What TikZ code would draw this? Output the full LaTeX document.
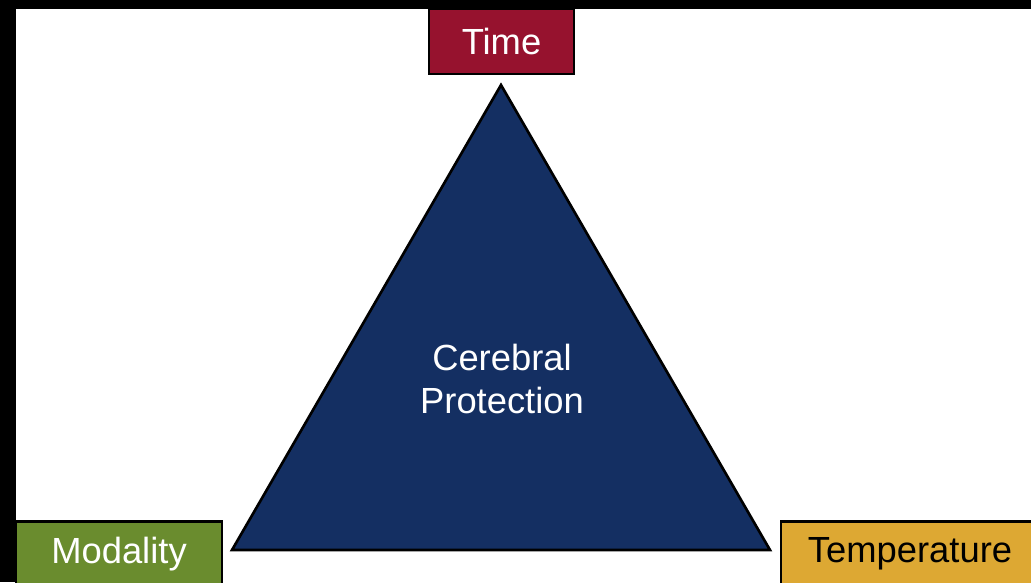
\documentclass[tikz,border=0pt]{standalone}
\usepackage{fontspec}
\setmainfont{Liberation Sans}
\definecolor{timered}{RGB}{150, 18, 46}
\definecolor{modgreen}{RGB}{106, 140, 46}
\definecolor{tempgold}{RGB}{221, 168, 51}
\definecolor{protblue}{RGB}{20, 47, 98}
\usepackage{tikz}
\usetikzlibrary{positioning, calc}

\begin{document}
\begin{tikzpicture}[x=0.02cm, y=-0.02cm,
    factor/.style={draw=black, line width=1.5pt, minimum height=1.3cm, inner sep=0pt,
      font=\fontsize{20.7}{25}\selectfont}]
  % Frame
  \useasboundingbox (0, 0) rectangle (1031, 582);
  \clip (0, 0) rectangle (1031, 582);
  \fill[black] (0, 0) rectangle (1031, 582);
  \fill[white] (16, 9) rectangle (1031, 582);

  % Triangle
  \coordinate (apex) at (501, 85);
  \coordinate (baseL) at (232, 550);
  \coordinate (baseR) at (770, 550);
  \filldraw[fill=protblue, draw=black, line width=1.5pt, line join=miter] (apex) -- (baseL) -- (baseR) -- cycle;
  \node[text=white, align=center, font=\fontsize{20.7}{25}\selectfont] (prot) at (502, 379) {Cerebral\\Protection};

  % Corner factors
  \node[factor, fill=timered, text=white, minimum width=2.9cm] (time) at (501.5, 41.5) {Time};
  \node[factor, fill=modgreen, text=white, minimum width=4.12cm] (modality) at (119, 554) {Modality};
  \node[factor, fill=tempgold, text=black, minimum width=5.16cm] (temperature) at (910, 554) {Temperature};
\end{tikzpicture}
\end{document}
